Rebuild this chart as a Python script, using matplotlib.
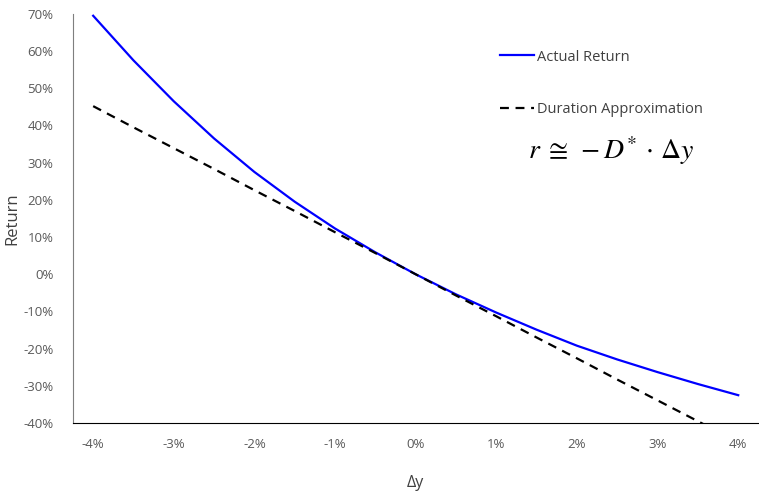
import numpy as np
import matplotlib.pyplot as plt
from matplotlib.ticker import FuncFormatter

# yield change (%) and returns (%)
dy = [-4, -3.5, -3, -2.5, -2, -1.5, -1, -0.5, 0, 0.5, 1, 1.5, 2, 2.5, 3, 3.5, 4]
actual = [69.5, 57.5, 46.5, 36.5, 27.5, 19.5, 12.3, 5.9, 0, -5.4, -10.3,
          -14.9, -19.2, -22.9, -26.3, -29.5, -32.5]
duration = [45.2, 39.5, 33.9, 28.3, 22.6, 17.0, 11.3, 5.7, 0, -5.7, -11.3,
            -17.0, -22.6, -28.3, -33.9, -39.5, -45.2]
xticks = [-4, -3, -2, -1, 0, 1, 2, 3, 4]
yticks = [-40, -30, -20, -10, 0, 10, 20, 30, 40, 50, 60, 70]

plt.rcParams['font.family'] = ['Open Sans', 'DejaVu Sans']
plt.rcParams['mathtext.fontset'] = 'stix'

fig = plt.figure(figsize=(7.59, 4.96), dpi=100)
ax = fig.add_axes([0.0962, 0.147, 0.903, 0.825])

ax.plot(dy, actual, color='#0000ff', lw=1.6, label='Actual Return')
ax.plot(dy, duration, color='black', lw=1.6, ls=(0, (4, 3)),
        label='Duration Approximation')

ax.set_xlim(-4.25, 4.25)
ax.set_ylim(-40, 70)
ax.set_xticks(xticks)
ax.set_yticks(yticks)
ax.xaxis.set_major_formatter(FuncFormatter(lambda v, p: f'{v:.0f}%'))
ax.yaxis.set_major_formatter(FuncFormatter(lambda v, p: f'{v:.0f}%'))
ax.tick_params(length=0, labelsize=9.5, colors='#595959')
ax.tick_params(axis='x', pad=11)
ax.tick_params(axis='y', pad=14)

for s in ['top', 'right']:
    ax.spines[s].set_visible(False)
ax.spines['left'].set_color('#7f7f7f')
ax.spines['bottom'].set_color('black')

ax.set_xlabel('Δy', fontsize=11.5, color='#404040', labelpad=17)
ax.set_ylabel('Return', fontsize=12, color='#404040', labelpad=2)

ax.legend(loc='upper left', bbox_to_anchor=(0.604, 0.945), frameon=False,
          fontsize=10.5, handlelength=2.3, handletextpad=0.2,
          labelspacing=2.55, labelcolor='#404040')

ax.text(0.785, 0.665, r'$r\; \cong\; -D^{*}\, \cdot\, \Delta y$',
        transform=ax.transAxes, fontsize=20, ha='center', va='center')

fig.savefig('out.png', dpi=100)
